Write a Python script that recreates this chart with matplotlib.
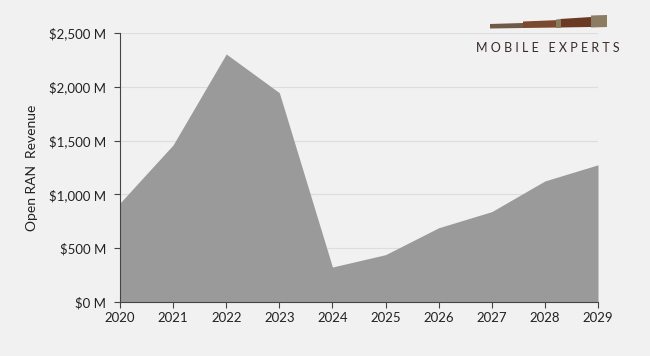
import matplotlib
matplotlib.use("Agg")
from matplotlib import pyplot as plt
from matplotlib.patches import Polygon
from matplotlib.ticker import FuncFormatter

years = [2020, 2021, 2022, 2023, 2024, 2025, 2026, 2027, 2028, 2029]
revenue = [920, 1460, 2305, 1945, 325, 440, 690, 840, 1125, 1275]
y_ticks = [0, 500, 1000, 1500, 2000, 2500]

plt.rcParams['font.family'] = ['Lato', 'DejaVu Sans']

bg = '#f1f1f1'
fig = plt.figure(figsize=(6.5, 3.56), dpi=100, facecolor=bg)
ax = fig.add_axes([120/650, 54/356, 478/650, 269/356], facecolor=bg)

ax.fill_between(years, revenue, 0, color='#9a9a9a', linewidth=0)

ax.set_xlim(years[0], years[-1])
ax.set_ylim(0, 2500)
ax.set_xticks(years)
ax.set_yticks(y_ticks)
ax.yaxis.set_major_formatter(FuncFormatter(lambda v, p: f'${v:,.0f} M'))
ax.grid(axis='y', color='#dddddd', linewidth=0.8)
ax.set_axisbelow(True)

for s in ['top', 'right']:
    ax.spines[s].set_visible(False)
for s in ['left', 'bottom']:
    ax.spines[s].set_color('#444444')
    ax.spines[s].set_linewidth(0.8)
ax.tick_params(direction='out', length=4, color='#444444', labelsize=9.5, labelcolor='#222222')
ax.tick_params(axis='y', pad=6)
ax.set_ylabel('Open RAN  Revenue', fontsize=10, color='#222222', labelpad=8)

# logo: telescope + name (figure pixel coords, y from top)
def px(x, y):
    return (x / 650, 1 - y / 356)

def piece(pts, color):
    fig.patches.append(Polygon([px(x, y) for x, y in pts], closed=True,
                               transform=fig.transFigure, facecolor=color, edgecolor='none'))

piece([(490, 24), (523, 23), (523, 28), (490, 28.5)], '#6e5a48')
piece([(523, 21.5), (560, 20), (560, 27.5), (523, 28)], '#7a4a30')
piece([(560, 19), (591, 17), (591, 27), (560, 27.5)], '#6b3a24')
piece([(556, 19.5), (561, 19), (561, 28), (556, 28)], '#8a7a5e')
piece([(591, 15.5), (607, 15), (607, 27), (591, 27.5)], '#8c7c62')
fig.text(548 / 650, 1 - 48 / 356, 'M O B I L E   E X P E R T S',
         ha='center', va='center', fontsize=9, color='#3a2a2a')

plt.savefig('out.png', dpi=100, facecolor=bg)
